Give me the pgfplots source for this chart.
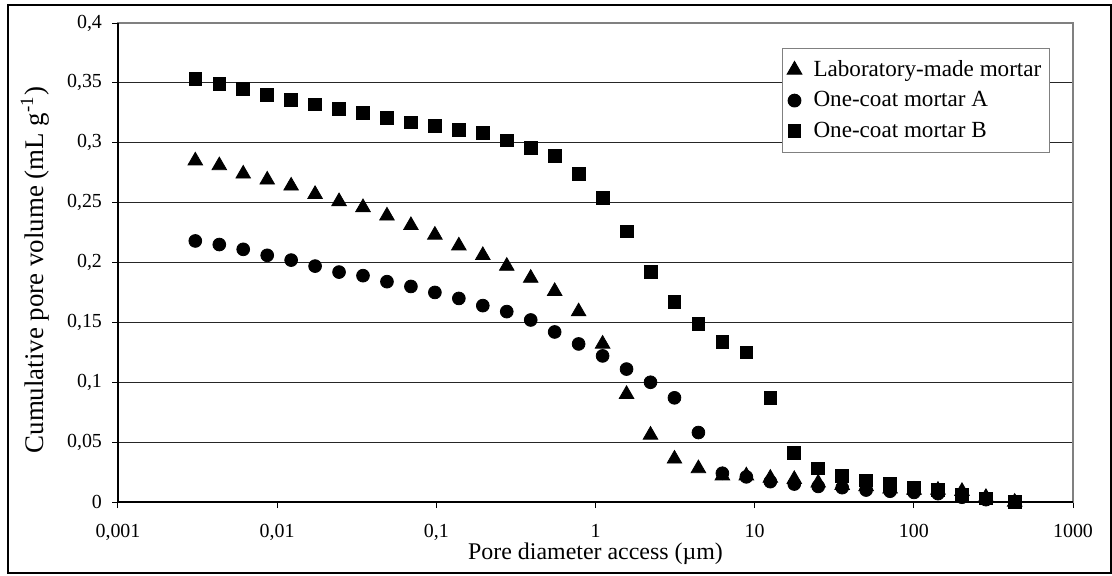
\documentclass[border=0pt]{standalone}
\usepackage{pgfplots}
\pgfplotsset{compat=1.18}
\usepackage{pgfplotstable}
\usepackage{fontspec}
\setmainfont{Liberation Serif}
\pgfplotsset{marklegend/.style={legend image code/.code={\path[draw=none,fill=none] (-3bp,0bp) -- (8bp,0bp); \draw[##1] plot coordinates {(0bp,0bp)};}}}
\pgfplotstableread{
x lab A B
0.00306 0.285 0.218 0.353
0.00433 0.281 0.215 0.349
0.00612 0.274 0.211 0.345
0.00866 0.269 0.206 0.340
0.01224 0.264 0.202 0.336
0.01731 0.257 0.197 0.332
0.02448 0.251 0.192 0.328
0.03462 0.246 0.189 0.325
0.04896 0.239 0.184 0.321
0.06925 0.231 0.180 0.317
0.09793 0.223 0.175 0.314
0.1385 0.214 0.170 0.311
0.1959 0.206 0.164 0.308
0.2770 0.197 0.159 0.302
0.3917 0.187 0.152 0.296
0.5540 0.176 0.142 0.289
0.7834 0.159 0.132 0.274
1.108 0.132 0.122 0.254
1.567 0.090 0.111 0.226
2.216 0.056 0.100 0.192
3.134 0.036 0.087 0.167
4.432 0.028 0.058 0.149
6.268 0.022 0.024 0.134
8.864 0.022 0.021 0.125
12.54 0.020 0.017 0.087
17.73 0.019 0.015 0.041
25.07 0.016 0.013 0.028
35.46 0.014 0.012 0.022
50.14 0.013 0.010 0.018
70.91 0.011 0.009 0.015
100.3 0.010 0.008 0.012
141.8 0.010 0.007 0.010
200.6 0.009 0.004 0.006
283.7 0.004 0.002 0.003
430 0.000 0.000 0.000
}\data
\begin{document}
\begin{tikzpicture}[x=1bp,y=1bp]
\useasboundingbox (0,0) rectangle (556,287.5);
\draw[line width=0.75bp] (4,1) rectangle (555.5,285);
\begin{axis}[
  at={(59bp,36.5bp)}, anchor=south west,
  scale only axis, width=477.5bp, height=239.5bp,
  xmode=log, xmin=0.001, xmax=1000, ymin=0, ymax=0.4,
  xtick={0.001,0.01,0.1,1,10,100,1000},
  xticklabels={{0,001},{0,01},{0,1},1,10,100,1000},
  xminorticks=false,
  ytick={0,0.05,0.1,0.15,0.2,0.25,0.3,0.35,0.4},
  yticklabels={0,{0,05},{0,1},{0,15},{0,2},{0,25},{0,3},{0,35},{0,4}},
  tick align=outside, xtick pos=bottom, ytick pos=left,
  major tick length=3bp,
  tick style={black, line width=0.5bp},
  axis line style={draw=black!50, line width=0.75bp},
  ymajorgrids, grid style={black!85, line width=0.5bp},
  ticklabel style={font=\fontsize{10}{12}\selectfont},
  xticklabel style={yshift=-4.5bp},
  yticklabel style={xshift=-1.5bp},
  xlabel={Pore diameter access (µm)},
  xlabel style={font=\fontsize{12}{14}\selectfont, at={(axis description cs:0.5,-0.109)}, anchor=center, inner sep=0pt},
  ylabel={Cumulative pore volume (mL g\textsuperscript{-1})},
  ylabel style={font=\fontsize{13.5}{16}\selectfont, at={(axis description cs:-0.087,0.484)}, anchor=center, rotate=0},
  clip=false,
  legend style={at={(axis description cs:0.695,0.948)}, anchor=north west,
    draw=black!50, line width=0.5bp, font=\fontsize{11.6}{13}\selectfont,
    nodes={inner sep=1.5bp}, row sep=3bp, inner xsep=2.5bp, inner ysep=4.5bp},
  legend cell align=left,
]
\addplot[only marks, mark=triangle*, mark size=4.2bp, black, mark options={fill=black}, marklegend] table[x=x,y=lab]{\data};
\addlegendentry{Laboratory-made mortar}
\addplot[only marks, mark=*, mark size=3.2bp, black, mark options={fill=black}, marklegend] table[x=x,y=A]{\data};
\addlegendentry{One-coat mortar A}
\addplot[only marks, mark=square*, mark size=3.2bp, black, mark options={fill=black}, marklegend] table[x=x,y=B]{\data};
\addlegendentry{One-coat mortar B}
\draw[black, line width=0.6bp] (rel axis cs:0,1) -- (rel axis cs:0,0) -- (rel axis cs:1,0);
\end{axis}
\end{tikzpicture}
\end{document}
